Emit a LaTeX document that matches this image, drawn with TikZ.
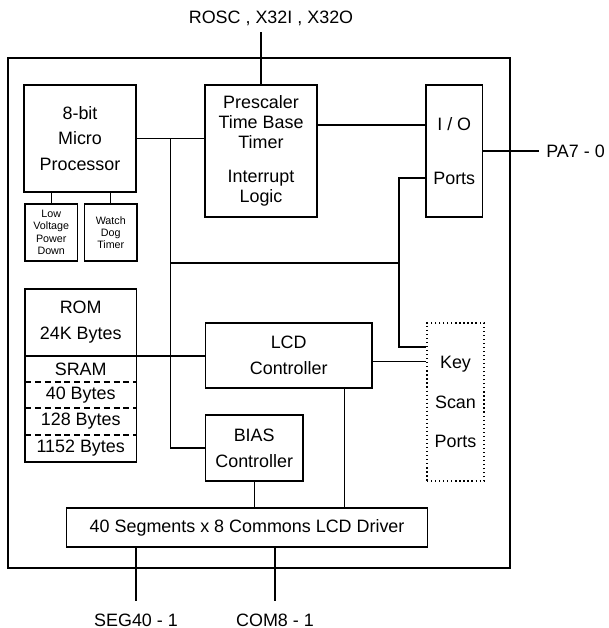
\documentclass[tikz,border=0pt]{standalone}
\usepackage{fontspec}
\setmainfont{Liberation Sans}
\usetikzlibrary{calc,positioning}
\newcommand{\blkfont}{\fontsize{10.2}{14.7}\selectfont}
\newcommand{\tinyfont}{\fontsize{6.1}{7}\selectfont}
\tikzset{
  chipframe/.style={line width=1.2pt},
  blk/.style={draw, line width=0.7pt, align=center, inner sep=0pt, font=\blkfont},
  subblk/.style={blk, minimum width=1.05cm, minimum height=1.14cm, font=\tinyfont},
  memcell/.style={inner sep=0pt, outer sep=0pt, align=center, font=\blkfont, minimum width=2.228cm},
  memline/.style={line width=0.7pt},
  memdash/.style={line width=0.7pt, dash pattern=on 3.4pt off 2.2pt},
  wire/.style={line width=0.6pt},
  pinlabel/.style={font=\blkfont, inner sep=0pt},
}

\begin{document}
\begin{tikzpicture}[x=0.02cm, y=-0.02cm]
    \useasboundingbox (0,0) rectangle (608,628);
    % --- chip outline ---
    \draw[chipframe] (7.8,58) rectangle (510,568);
    % --- blocks ---
    \node[blk, minimum width=2.24cm, minimum height=2.14cm] (micro) at (80,138.5) {8-bit\\Micro\\Processor};
    \node[subblk] (lv) at (51.25,232.5) {Low\\Voltage\\Power\\Down};
    \node[subblk] (wdt) at (110.75,232.5) {Watch\\Dog\\Timer};
    \node[blk, minimum width=2.24cm, minimum height=2.64cm,
          font=\fontsize{10.2}{11.3}\selectfont] (presc) at (261,151)
          {Prescaler\\Time Base\\Timer\\[0.28cm]Interrupt\\Logic};
    \node[blk, minimum width=1.13cm, minimum height=2.64cm,
          font=\fontsize{10.2}{30.6}\selectfont] (io) at (454.25,151) {I / O\\Ports};
    \node[blk, minimum width=3.33cm, minimum height=1.3cm] (lcd) at (288.7,355.5) {LCD\\Controller};
    \node[blk, minimum width=1.95cm, minimum height=1.32cm] (bias) at (254.2,448) {BIAS\\Controller};
    \node[blk, dash pattern=on 0.7pt off 1.6pt, minimum width=1.14cm, minimum height=3.16cm,
          font=\fontsize{10.2}{22.4}\selectfont] (keyscan) at (455.5,402) {Key\\Scan\\Ports};
    \node[blk, minimum width=7.22cm, minimum height=0.78cm] (driver) at (247.1,527.5)
          {40 Segments x 8 Commons LCD Driver};
    % --- memory stack ---
    \node[memcell, minimum height=1.34cm] (rom) at (80.7,322.5) {ROM\\24K Bytes};
    \node[memcell, minimum height=0.52cm, below=0pt of rom] (sram) {SRAM};
    \node[memcell, minimum height=0.52cm, below=0pt of sram] (b40) {40 Bytes};
    \node[memcell, minimum height=0.54cm, below=0pt of b40] (b128) {128 Bytes};
    \node[memcell, minimum height=0.54cm, below=0pt of b128] (b1152) {1152 Bytes};
    \draw[memline] (rom.north west) rectangle (b1152.south east);
    \draw[memline] (rom.south west) -- (rom.south east);
    \draw[memdash] (sram.south west) -- (sram.south east);
    \draw[memdash] (b40.south west) -- (b40.south east);
    \draw[memdash] (b128.south west) -- (b128.south east);
    % --- pins ---
    \node[pinlabel] (osc) at (271,18) {ROSC , X32I , X32O};
    \coordinate (oscpin) at (260.5,32);
    \node[pinlabel, anchor=west, inner xsep=0.14cm] (pa) at (539,151) {PA7 - 0};
    \node[pinlabel] (seg) at (136,620) {SEG40 - 1};
    \coordinate (segpin) at (136,601);
    \node[pinlabel] (com) at (275,620) {COM8 - 1};
    \coordinate (compin) at (275,601);
    % --- wiring ---
    \draw[wire] (presc.north) -- (presc.north |- oscpin);
    \draw[wire] (micro.east) -- (micro.east -| presc.west);
    \coordinate (bus) at (170.5,138.5);
    \coordinate (kbus) at (399,263);
    \draw[wire] (bus) |- (bias.west);
    \draw[wire] (bus |- kbus) -- (kbus);
    \draw[wire] ($(io.west)+(0,27)$) -| (kbus) |- ($(keyscan.west)+(0,-55)$);
    \draw[wire] ($(presc.east)+(0,-26)$) coordinate (tb) -- (tb -| io.west);
    \draw[wire] (io.east) -- (pa.west);
    \draw[wire] (micro.south -| lv.north) -- (lv.north);
    \draw[wire] (micro.south -| wdt.north) -- (wdt.north);
    \draw[wire] (rom.south east) -- (rom.south east -| lcd.west);
    \draw[wire] ($(lcd.east)+(0,6)$) coordinate (ks) -- (ks -| keyscan.west);
    \draw[wire] ($(lcd.south east)+(-28,0)$) coordinate (ld) -- (ld |- driver.north);
    \draw[wire] (bias.south) -- (driver.north -| bias.south);
    \draw[wire] (driver.south -| segpin) -- (segpin);
    \draw[wire] (driver.south -| compin) -- (compin);
\end{tikzpicture}
\end{document}
